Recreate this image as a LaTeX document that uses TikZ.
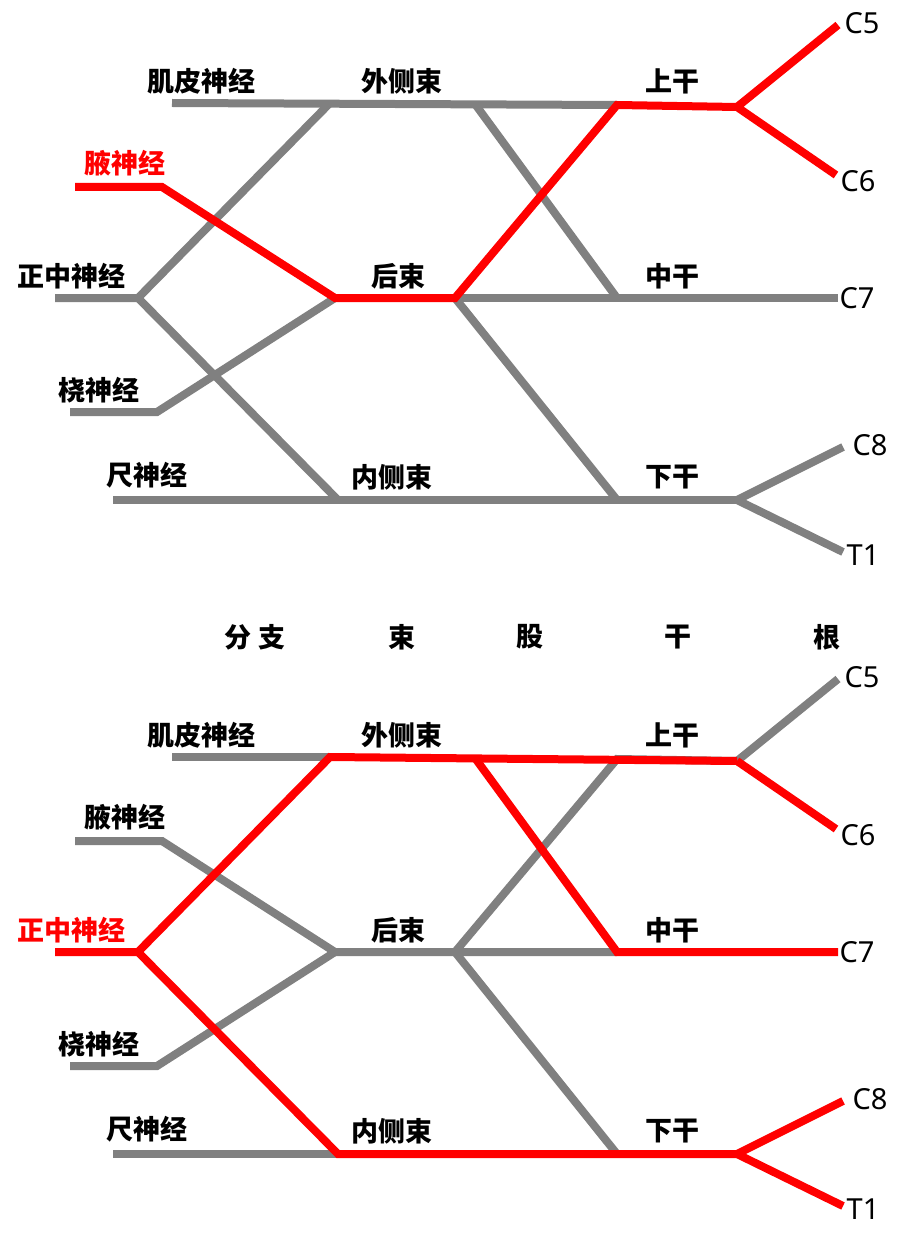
\documentclass[tikz,border=0pt]{standalone}
\usepackage{fontspec}
\setmainfont{Noto Sans}
\newfontfamily\cjk{Noto Sans CJK SC}
\usetikzlibrary{positioning}
\definecolor{nervegray}{RGB}{128,128,128}
\definecolor{nervered}{RGB}{255,0,0}

% points of one plexus, in pixels of the page
\newcommand{\plexuspoints}{%
	\coordinate (mc) at (172,103);
	\coordinate (lat) at (330,103);
	\coordinate (latd) at (475,104);
	\coordinate (up) at (617,105);
	\coordinate (upr) at (737,107);
	\coordinate (c5) at (838,25);
	\coordinate (c6) at (836,175);
	\coordinate (ax0) at (75,187);
	\coordinate (ax1) at (162,187);
	\coordinate (post) at (335,298);
	\coordinate (postd) at (455,298);
	\coordinate (mid) at (617,298);
	\coordinate (c7) at (838,298);
	\coordinate (me0) at (55,298);
	\coordinate (me1) at (138,298);
	\coordinate (ra0) at (70,412);
	\coordinate (ra1) at (157,412);
	\coordinate (ul0) at (113,500);
	\coordinate (med) at (338,500);
	\coordinate (low) at (617,500);
	\coordinate (lowr) at (737,500);
	\coordinate (c8) at (843,447);
	\coordinate (t1) at (843,552);
	% labels that do not change
	\node[lbl] (lmc) at (201,81) {肌皮神经};
	\node[lbl] (llat) at (402,81) {外侧束};
	\node[lbl] (lup) at (672,81) {上干};
	\node[lbl] (lpost) at (398,276) {后束};
	\node[lbl] (lmid) at (672,276) {中干};
	\node[lbl] (lra) at (99,390) {桡神经};
	\node[lbl] (lul) at (147,475) {尺神经};
	\node[lbl] (lmed) at (392,477) {内侧束};
	\node[lbl] (llow) at (672,477) {下干};
	\node[root] (rc5) at (862,23) {C5};
	\node[root] (rc6) at (858,181) {C6};
	\node[root] (rc7) at (857,298) {C7};
	\node[root] (rc8) at (870,445) {C8};
	\node[root] (rt1) at (863,555) {T1};
}

\begin{document}
\begin{tikzpicture}[x=1pt, y=-1pt,
	nerve/.style={draw=nervegray, line width=8pt},
	hot/.style={draw=nervered, line width=8pt},
	lbl/.style={font=\cjk\bfseries\fontsize{27}{30}\selectfont, inner sep=0pt},
	hotlbl/.style={lbl, text=nervered},
	root/.style={font=\fontsize{29}{30}\selectfont, inner sep=0pt}]
	\useasboundingbox[fill=white] (0,0) rectangle (900,1249);
	% column headers
	\node[lbl] (hbr) at (255,637) {分\hspace{7pt}支};
	\node[lbl] (hcord) at (402,637) {束};
	\node[lbl] (hdiv) at (530,637) {股};
	\node[lbl] (htrunk) at (678,637) {干};
	\node[lbl] (hroot) at (827,637) {根};
	% upper plexus: axillary nerve
	\begin{scope}
		\plexuspoints
		\node[hotlbl] (lax) at (125,163) {腋神经};
		\node[lbl] (lme) at (71,276) {正中神经};
		\draw[nerve] (mc) -- (up);
		\draw[nerve] (me0) -- (me1) -- (lat);
		\draw[nerve] (me1) -- (med);
		\draw[nerve] (ra0) -- (ra1) -- (post);
		\draw[nerve] (ul0) -- (lowr);
		\draw[nerve, line join=round] (c8) -- (lowr) -- (t1);
		\draw[nerve] (latd) -- (mid);
		\draw[nerve] (postd) -- (c7);
		\draw[nerve] (postd) -- (low);
		\draw[hot] (ax0) -- (ax1) -- (post) -- (postd) -- (up) -- (upr);
		\draw[hot, line join=round] (c5) -- (upr) -- (c6);
	\end{scope}
	% lower plexus: median nerve
	\begin{scope}[yshift=-654pt]
		\plexuspoints
		\node[lbl] (lax) at (125,163) {腋神经};
		\node[hotlbl] (lme) at (71,276) {正中神经};
		\draw[nerve] (mc) -- (lat);
		\draw[nerve] (ax0) -- (ax1) -- (post) -- (postd) -- (mid);
		\draw[nerve] (postd) -- (up) -- (upr);
		\draw[nerve] (postd) -- (low);
		\draw[nerve] (ra0) -- (ra1) -- (post);
		\draw[nerve] (ul0) -- (med);
		\draw[nerve] (upr) -- (c5);
		\draw[hot] (me0) -- (me1) -- (lat) -- (upr);
		\draw[hot] (upr) -- (c6);
		\draw[hot] (latd) -- (mid) -- (c7);
		\draw[hot] (me1) -- (med) -- (lowr);
		\draw[hot, line join=round] (c8) -- (lowr) -- (t1);
	\end{scope}
\end{tikzpicture}
\end{document}
